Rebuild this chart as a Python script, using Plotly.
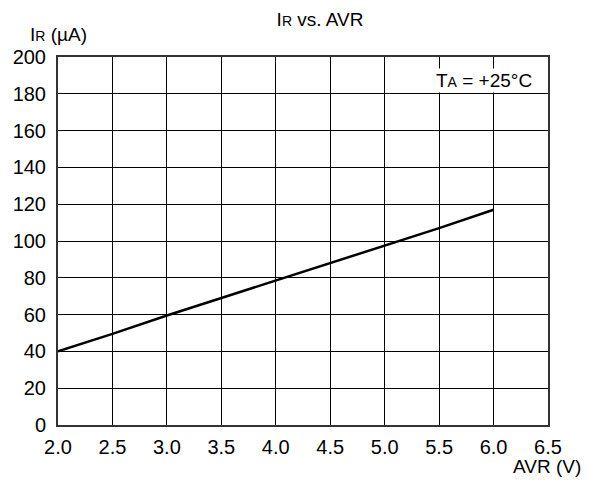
import plotly.graph_objects as go

# data
avr_v = [2.0, 2.5, 3.0, 3.5, 4.0, 4.5, 5.0, 5.5, 6.0]
ir_ua = [40, 49.5, 59.5, 69, 78.5, 88, 97.5, 107, 117]

x_ticks = [2.0, 2.5, 3.0, 3.5, 4.0, 4.5, 5.0, 5.5, 6.0, 6.5]
y_ticks = [0, 20, 40, 60, 80, 100, 120, 140, 160, 180, 200]

FONT = "Liberation Sans, Arial, sans-serif"
SUB = "<span style='font-size:14px'>{}</span>"

fig = go.Figure()
fig.add_trace(go.Scatter(
    x=avr_v, y=ir_ua, mode="lines",
    line=dict(color="black", width=2.5),
    showlegend=False,
))

# page body has an 8px margin, so the figure is sized to fit inside it
fig.update_layout(
    width=580, height=471,
    paper_bgcolor="white", plot_bgcolor="white",
    margin=dict(l=50, r=40, t=49, b=54),
    font=dict(family=FONT, size=20, color="black"),
    title=dict(
        text="I" + SUB.format("R") + " vs. AVR",
        x=0.538, xanchor="center", y=0.99, yanchor="top",
        font=dict(size=19),
    ),
    xaxis=dict(
        range=[2.0, 6.5], tickvals=x_ticks,
        ticktext=[f"{v:.1f}" for v in x_ticks],
        showgrid=True, gridcolor="black", gridwidth=1,
        showline=True, linecolor="#333", linewidth=2, mirror=True,
        ticks="", zeroline=False, ticklabelstandoff=3, automargin=False,
    ),
    yaxis=dict(
        range=[0, 200], tickvals=y_ticks,
        showgrid=True, gridcolor="black", gridwidth=1,
        showline=True, linecolor="#333", linewidth=2, mirror=True,
        ticks="", zeroline=False, ticklabelstandoff=6, automargin=False,
    ),
    annotations=[
        dict(text="I" + SUB.format("R") + " (µA)", xref="paper", yref="paper",
             x=0, y=1.0, xanchor="center", yanchor="bottom",
             showarrow=False, font=dict(size=19), yshift=10),
        dict(text="AVR (V)", xref="paper", yref="paper",
             x=1, y=0, xanchor="right", yanchor="middle",
             showarrow=False, font=dict(size=19), xshift=35, yshift=-41),
        dict(text="T" + SUB.format("A") + " = +25°C", xref="paper", yref="paper",
             x=1, y=1, xanchor="right", yanchor="top",
             showarrow=False, font=dict(size=19), bgcolor="white",
             xshift=-14, yshift=-11),
    ],
)

fig.write_html("out.html")
